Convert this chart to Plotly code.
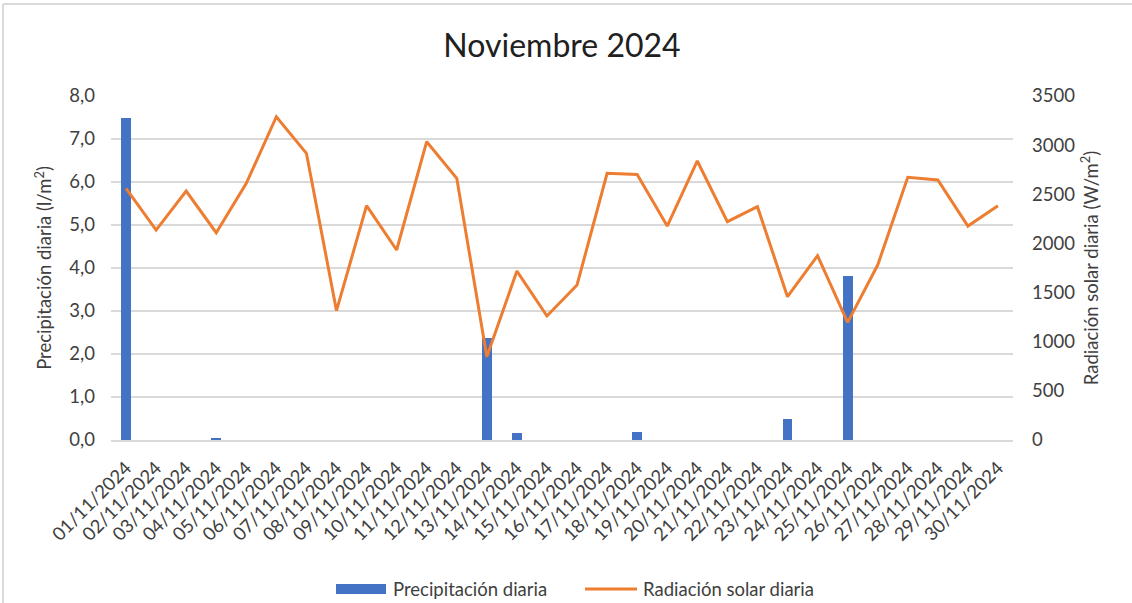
import plotly.graph_objects as go

fechas = [f"{d:02d}/11/2024" for d in range(1, 31)]
precipitacion = [7.5, 0.0, 0.0, 0.05, 0.0, 0.0, 0.0, 0.0, 0.0, 0.0,
                 0.0, 0.0, 2.37, 0.17, 0.0, 0.0, 0.0, 0.18, 0.0, 0.0,
                 0.0, 0.0, 0.48, 0.0, 3.81, 0.0, 0.0, 0.0, 0.0, 0.0]
radiacion = [2561, 2136, 2533, 2109, 2611, 3289, 2917, 1316, 2384, 1933,
             3035, 2662, 848, 1719, 1262, 1577, 2713, 2702, 2177, 2839,
             2221, 2374, 1458, 1875, 1197, 1780, 2672, 2645, 2177, 2384]
serie_nombres = ["Precipitación diaria", "Radiación solar diaria"]

FONT = "Lato"
TXT = "#404040"
FS = 18.5
BLUE = "#4472C4"
ORANGE = "#ED7D31"

fig = go.Figure()
fig.add_trace(go.Bar(x=fechas, y=precipitacion, name=serie_nombres[0],
                     marker=dict(color=BLUE, line=dict(width=0)),
                     width=0.33, yaxis="y", showlegend=False))
fig.add_trace(go.Scatter(x=fechas, y=radiacion, name=serie_nombres[1],
                         mode="lines", line=dict(color=ORANGE, width=3),
                         yaxis="y2", showlegend=False))

L, R, T, B = 111, 119, 96, 163
W, H = 1132, 603
pw, ph = W - L - R, H - T - B
def px(x):
    return (x - L) / pw
def py(y):
    return (H - B - y) / ph

LEG_Y = 589
shapes = [
    dict(type="line", xref="paper", yref="paper", x0=px(3), x1=px(3),
         y0=py(4), y1=py(H), line=dict(color="#D9D9D9", width=2)),
    dict(type="line", xref="paper", yref="paper", x0=px(3), x1=px(W),
         y0=py(4), y1=py(4), line=dict(color="#D9D9D9", width=2)),
    dict(type="rect", xref="paper", yref="paper", x0=px(336), x1=px(386),
         y0=py(LEG_Y - 5), y1=py(LEG_Y + 5), fillcolor=BLUE,
         line=dict(width=0)),
    dict(type="line", xref="paper", yref="paper", x0=px(585), x1=px(637),
         y0=py(LEG_Y), y1=py(LEG_Y), line=dict(color=ORANGE, width=3)),
]
annotations = [
    dict(text=serie_nombres[0], xref="paper", yref="paper", x=px(391),
         y=py(LEG_Y), xanchor="left", yanchor="middle", showarrow=False,
         font=dict(family=FONT, size=FS, color=TXT)),
    dict(text=serie_nombres[1], xref="paper", yref="paper", x=px(641),
         y=py(LEG_Y), xanchor="left", yanchor="middle", showarrow=False,
         font=dict(family=FONT, size=FS, color=TXT)),
]

fig.update_layout(
    width=W, height=H,
    margin=dict(l=L, r=R, t=T, b=B, autoexpand=False),
    paper_bgcolor="white", plot_bgcolor="white",
    separators=",.",
    font=dict(family=FONT, color=TXT, size=FS),
    title=dict(text="Noviembre 2024", x=0.5, xref="paper", xanchor="center",
               y=1 - 46 / H, yanchor="middle",
               font=dict(family=FONT, size=32, color="#202020")),
    xaxis=dict(type="category", range=[-0.5, 29.5], tickangle=-45,
               showgrid=False, showline=True, linecolor="#D9D9D9", linewidth=2,
               ticks="", ticklabelstandoff=8,
               tickfont=dict(size=FS, color=TXT)),
    yaxis=dict(range=[0, 8], dtick=1, tickformat=".1f",
               showgrid=True, gridcolor="#D9D9D9", gridwidth=2,
               zeroline=False, showline=False, ticks="", ticklabelstandoff=15,
               tickfont=dict(size=FS, color=TXT),
               title=dict(text="Precipitación diaria (l/m<sup>2</sup>)",
                          font=dict(size=FS, color=TXT), standoff=12)),
    yaxis2=dict(range=[0, 3500], dtick=500, tickformat="d", overlaying="y",
                side="right", showgrid=False, zeroline=False, showline=False,
                ticks="", ticklabelstandoff=18,
                tickfont=dict(size=FS, color=TXT),
                title=dict(text="Radiación solar diaria (W/m<sup>2</sup>)",
                           font=dict(size=FS, color=TXT), standoff=10)),
    showlegend=False,
    bargap=0,
    shapes=shapes,
    annotations=annotations,
)

fig.write_html("out.html", config={"displayModeBar": False},
               post_script="document.body.style.margin='0';")
